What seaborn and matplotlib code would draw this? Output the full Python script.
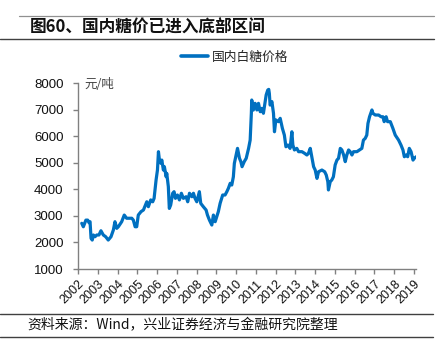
import matplotlib
matplotlib.use("Agg")
import matplotlib.pyplot as plt
from matplotlib.lines import Line2D
import seaborn as sns
import pandas as pd

# ---- data (decimal year, price in 元/吨) ----
time_points = [
    2002.19, 2002.27, 2002.40, 2002.49, 2002.56, 2002.61, 2002.66, 2002.72, 2002.78, 2002.86,
    2002.95, 2003.06, 2003.16, 2003.28, 2003.40, 2003.53, 2003.67, 2003.79, 2003.87, 2003.96,
    2004.04, 2004.21, 2004.34, 2004.46, 2004.58, 2004.72, 2004.80, 2004.89, 2004.97, 2005.05,
    2005.19, 2005.31, 2005.48, 2005.56, 2005.68, 2005.78, 2005.85, 2005.95, 2006.02, 2006.07,
    2006.12, 2006.19, 2006.24, 2006.32, 2006.37, 2006.46, 2006.49, 2006.57, 2006.62, 2006.69,
    2006.79, 2006.86, 2006.93, 2007.03, 2007.13, 2007.23, 2007.33, 2007.47, 2007.55, 2007.64,
    2007.76, 2007.84, 2007.92, 2008.01, 2008.14, 2008.21, 2008.34, 2008.48, 2008.55, 2008.65,
    2008.77, 2008.85, 2008.94, 2009.02, 2009.10, 2009.19, 2009.32, 2009.44, 2009.53, 2009.61,
    2009.70, 2009.78, 2009.86, 2009.91, 2010.00, 2010.07, 2010.17, 2010.24, 2010.30, 2010.41,
    2010.51, 2010.63, 2010.71, 2010.77, 2010.79, 2010.87, 2010.96, 2011.05, 2011.13, 2011.22,
    2011.30, 2011.38, 2011.52, 2011.60, 2011.65, 2011.68, 2011.72, 2011.81, 2011.89, 2011.94,
    2012.01, 2012.14, 2012.23, 2012.34, 2012.44, 2012.52, 2012.62, 2012.73, 2012.82, 2012.87,
    2012.95, 2013.07, 2013.16, 2013.33, 2013.46, 2013.58, 2013.66, 2013.75, 2013.83, 2013.92,
    2014.00, 2014.09, 2014.17, 2014.34, 2014.48, 2014.56, 2014.64, 2014.67, 2014.76, 2014.84,
    2014.92, 2015.01, 2015.10, 2015.18, 2015.27, 2015.35, 2015.44, 2015.52, 2015.60, 2015.69,
    2015.77, 2015.86, 2015.94, 2016.11, 2016.24, 2016.36, 2016.44, 2016.53, 2016.61, 2016.67,
    2016.75, 2016.87, 2016.92, 2017.04, 2017.21, 2017.33, 2017.43, 2017.49, 2017.59, 2017.66,
    2017.80, 2017.93, 2018.05, 2018.22, 2018.34, 2018.44, 2018.51, 2018.61, 2018.68, 2018.76,
    2018.85, 2018.95, 2019.01, 2019.11, 2019.18,
]
sugar_price = [
    2720, 2590, 2840, 2840, 2740, 2780, 2155, 2090, 2280, 2215,
    2280, 2280, 2440, 2280, 2215, 2090, 2215, 2470, 2780, 2530,
    2590, 2780, 3030, 2910, 2910, 2910, 2840, 2590, 2590, 3030,
    3160, 3220, 3530, 3345, 3600, 3530, 3660, 4350, 4725, 5415,
    5100, 4980, 5100, 4725, 4850, 4470, 4600, 4100, 3280, 3410,
    3850, 3910, 3660, 3785, 3600, 3850, 3660, 3720, 3530, 3850,
    3720, 3850, 3660, 3530, 3910, 3470, 3345, 3220, 3030, 2840,
    2655, 3030, 2780, 2970, 3160, 3470, 3785, 3785, 3910, 4040,
    4225, 4160, 4470, 4975, 5290, 5540, 5165, 5040, 4850, 5040,
    5165, 5540, 5850, 6860, 7360, 6980, 7235, 6985, 7235, 6920,
    7045, 6860, 7550, 7735, 7760, 7610, 7170, 7300, 6860, 6165,
    6610, 6545, 6670, 6295, 6040, 5600, 5665, 5540, 6165, 5665,
    5480, 5540, 5415, 5415, 5355, 5290, 5355, 5540, 5225, 4850,
    4725, 4410, 4660, 4725, 4660, 4535, 4285, 3975, 4285, 4350,
    4470, 4915, 5100, 5165, 5540, 5480, 5290, 5040, 5290, 5480,
    5415, 5290, 5415, 5415, 5480, 5540, 5850, 5915, 6040, 6480,
    6730, 6985, 6860, 6795, 6795, 6730, 6730, 6545, 6730, 6545,
    6545, 6295, 6040, 5850, 5665, 5480, 5225, 5290, 5225, 5540,
    5415, 5100, 5165, 5225, 5225,
]
year_labels = [str(y) for y in range(2002, 2020)]
y_ticks = [1000, 2000, 3000, 4000, 5000, 6000, 7000, 8000]
series_name = "国内白糖价格"
title_text = "图60、国内糖价已进入底部区间"
unit_text = "元/吨"
source_text = "资料来源：Wind，兴业证券经济与金融研究院整理"

df = pd.DataFrame({"t": time_points, "price": sugar_price, "series": series_name})

sns.set_style("ticks")
plt.rcParams["font.family"] = ["Liberation Sans", "Noto Sans CJK SC", "DejaVu Sans"]

W, H = 445, 345
fig = plt.figure(figsize=(W / 100, H / 100), dpi=100)
ax = fig.add_axes([78 / W, (H - 269) / H, (416 - 78) / W, (269 - 83) / H])

sns.lineplot(data=df, x="t", y="price", hue="series", palette=["#0070C0"],
             linewidth=2.3, ax=ax, legend=False)

ax.set_xlim(2002, 2019.1)
ax.set_ylim(1000, 8000)
ax.set_xticks(range(2002, 2020))
ax.set_xticklabels(year_labels, rotation=45, ha="right", va="top",
                   rotation_mode="anchor", fontsize=9, color="#111111")
ax.set_yticks(y_ticks)
ax.set_yticklabels([str(v) for v in y_ticks], fontsize=9.5, color="#111111")
ax.set_xlabel("")
ax.set_ylabel("")
for s in ["top", "right"]:
    ax.spines[s].set_visible(False)
for s in ["left", "bottom"]:
    ax.spines[s].set_color("#808080")
    ax.spines[s].set_linewidth(1.0)
ax.tick_params(axis="both", colors="#808080", length=3.5, width=1.0, labelcolor="#111111")
ax.tick_params(axis="y", pad=7)
ax.tick_params(axis="x", pad=3)

ax.text(84 / W * W, 0, "", transform=ax.transAxes)
fig.text(84 / W, 1 - 85 / H, unit_text, fontsize=9, color="#444444",
         family=["Noto Sans CJK SC", "DejaVu Sans"], ha="left", va="center")

# legend
handle = Line2D([0], [0], color="#0070C0", lw=2.6)
fig.legend([handle], [series_name], loc="center", bbox_to_anchor=(235 / W, 1 - 57 / H),
           frameon=False, handlelength=2.1, handletextpad=0.3, borderpad=0,
           prop={"family": ["Noto Sans CJK SC", "DejaVu Sans"], "size": 9.2})

# title and rules
fig.text(30 / W, 1 - 28 / H, title_text, fontsize=12, fontweight="bold", color="#111111",
         family=["Noto Sans CJK SC", "DejaVu Sans"], ha="left", va="center")
fig.add_artist(Line2D([19 / W, 434 / W], [1 - 16 / H, 1 - 16 / H], transform=fig.transFigure,
                      color="#909090", lw=0.9))
fig.add_artist(Line2D([0, 434 / W], [1 - 39 / H, 1 - 39 / H], transform=fig.transFigure,
                      color="#404040", lw=1.0))

# source
fig.add_artist(Line2D([0, 433 / W], [1 - 314 / H, 1 - 314 / H], transform=fig.transFigure,
                      color="#404040", lw=1.0))
fig.add_artist(Line2D([0, 433 / W], [1 - 337 / H, 1 - 337 / H], transform=fig.transFigure,
                      color="#404040", lw=1.0))
fig.text(27 / W, 1 - 325 / H, source_text, fontsize=10, color="#111111",
         family=["Noto Sans CJK SC", "DejaVu Sans"], ha="left", va="center")

fig.savefig("out.png", dpi=100)
